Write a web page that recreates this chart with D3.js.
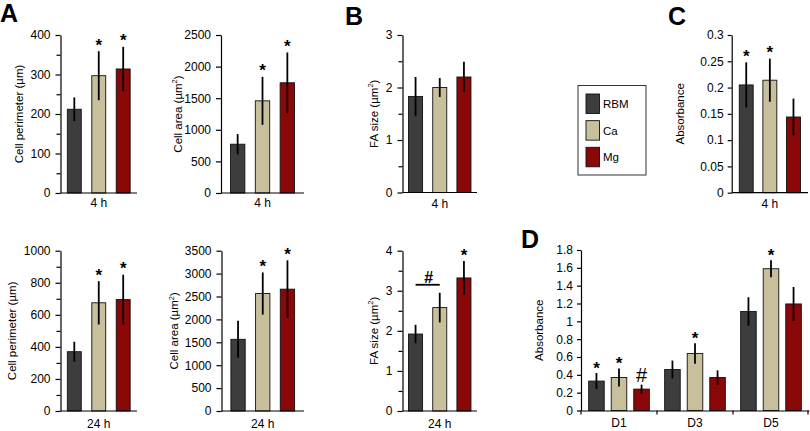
<!DOCTYPE html>
<html><head><meta charset="utf-8">
<script src="https://cdn.jsdelivr.net/npm/d3@7"></script>
<style>body{margin:0;background:#fff} svg text{font-family:"Liberation Sans",Arial,sans-serif;fill:#000}</style>
</head><body><svg id="c" width="810" height="431"></svg>
<script>
// ---------- data ----------
const groups = ["RBM", "Ca", "Mg"];
const colors = ["#3d3d3d", "#c8c09c", "#8a0808"];

const perim4h = [212, 297, 314], perim4hSD = [30, 62, 56], perim4hSig = ["", "*", "*"];
const area4h = [772, 1458, 1744], area4hSD = [160, 380, 480], area4hSig = ["", "*", "*"];
const perim24h = [370, 675, 695], perim24hSD = [62, 135, 155], perim24hSig = ["", "*", "*"];
const area24h = [1565, 2565, 2660], area24hSD = [405, 460, 630], area24hSig = ["", "*", "*"];
const fa4h = [1.83, 2.0, 2.2], fa4hSD = [0.37, 0.18, 0.29], fa4hSig = ["", "", ""];
const fa24h = [1.92, 2.58, 3.32], fa24hSD = [0.23, 0.37, 0.42], fa24hSig = ["", "", "*"];
const abs4h = [0.205, 0.214, 0.144], abs4hSD = [0.043, 0.041, 0.035], abs4hSig = ["*", "*", ""];

const days = ["D1", "D3", "D5"];
const absRBM = [0.33, 0.46, 1.11], absRBMSD = [0.09, 0.10, 0.16], absRBMSig = ["*", "", ""];
const absCa = [0.37, 0.64, 1.59], absCaSD = [0.10, 0.115, 0.095], absCaSig = ["*", "*", "*"];
const absMg = [0.24, 0.37, 1.195], absMgSD = [0.05, 0.08, 0.19], absMgSig = ["#", "", ""];

const ticksPerim4h = [0, 100, 200, 300, 400], minorPerim4h = [50, 150, 250, 350];
const ticksArea4h = [0, 500, 1000, 1500, 2000, 2500];
const ticksPerim24h = [0, 200, 400, 600, 800, 1000], minorPerim24h = [100, 300, 500, 700, 900];
const ticksArea24h = [0, 500, 1000, 1500, 2000, 2500, 3000, 3500];
const ticksFA4h = [0, 1, 2, 3], minorFA4h = [0.5, 1.5, 2.5];
const ticksFA24h = [0, 1, 2, 3, 4], minorFA24h = [0.5, 1.5, 2.5, 3.5];
const ticksAbs4h = [0, 0.05, 0.1, 0.15, 0.2, 0.25, 0.3];
const ticksAbsD = [0, 0.2, 0.4, 0.6, 0.8, 1, 1.2, 1.4, 1.6, 1.8];

const bracket24h = {from: "RBM", to: "Ca", value: 3.15, label: "#"};

// ---------- drawing ----------
const svg = d3.select("#c");
const FONT_TICK = 12, FONT_TITLE = 11.5;

function yAxis(g, y, major, minor, size, pad) {
  const ax = g.append("g").attr("transform", `translate(${y.x0},0)`)
    .call(d3.axisLeft(y).tickValues(major).tickSize(size).tickSizeOuter(0).tickPadding(pad).tickFormat(d => String(d)));
  ax.selectAll("text").style("font-size", FONT_TICK + "px").style("font-family", '"Liberation Sans",Arial,sans-serif');
  ax.selectAll("line,path").attr("stroke", "#000").attr("stroke-width", 1.2);
  if (minor && minor.length) {
    const mx = g.append("g").attr("transform", `translate(${y.x0},0)`)
      .call(d3.axisLeft(y).tickValues(minor).tickSize(size - 1).tickSizeOuter(0).tickFormat(""));
    mx.select(".domain").remove();
    mx.selectAll("line").attr("stroke", "#000").attr("stroke-width", 1.2);
  }
}

function title(g, text, cx, cy, sup) {
  const t = g.append("text").attr("transform", `translate(${cx},${cy}) rotate(-90)`)
    .attr("text-anchor", "middle").attr("dy", "0.35em").style("font-size", FONT_TITLE + "px");
  if (sup) {
    t.append("tspan").text(text);
    t.append("tspan").text("2").attr("dy", -4.5).style("font-size", "7.5px");
    t.append("tspan").text(")").attr("dy", 4.5);
  } else t.text(text);
}

function bars(g, xs, y, vals, sds, sigs, off) {
  const bw = xs.bandwidth();
  groups.forEach((k, i) => {
    const x = xs(k), v = vals[i], s = sds[i];
    g.append("rect").attr("x", x).attr("y", y(v)).attr("width", bw).attr("height", y(0) - y(v))
      .attr("fill", colors[i]).attr("stroke", "#111").attr("stroke-width", 0.9);
    g.append("line").attr("x1", x + bw / 2).attr("x2", x + bw / 2).attr("y1", y(v - s)).attr("y2", y(v + s))
      .attr("stroke", "#000").attr("stroke-width", 1.8);
    const sig = sigs[i];
    if (sig) {
      const isHash = sig === "#";
      g.append("text").attr("x", x + bw / 2).attr("y", y(v + s) + (isHash ? -2.5 : off))
        .attr("text-anchor", "middle").style("font-size", isHash ? "20px" : "17px")
        .style("font-weight", isHash ? "normal" : "bold").text(sig);
    }
  });
}

function panel(p) {
  const g = svg.append("g");
  const y = d3.scaleLinear().domain(p.domain).range([p.yBot, p.yTop]);
  y.x0 = p.x0;
  const xs = d3.scaleBand().domain(groups).range([p.x0, p.x1]).paddingInner(p.pi).paddingOuter(p.po);
  bars(g, xs, y, p.vals, p.sds, p.sigs, -0.5);
  g.append("line").attr("x1", p.x0).attr("x2", p.x1).attr("y1", p.yBot).attr("y2", p.yBot)
    .attr("stroke", "#000").attr("stroke-width", 1.2);
  yAxis(g, y, p.major, p.minor, p.tickSize || 5, p.tickPad || 5);
  title(g, p.title, p.titleX, (p.yTop + p.yBot) / 2, p.sup);
  g.append("text").attr("x", xs("Ca") + xs.bandwidth() / 2).attr("y", p.catY).attr("text-anchor", "middle")
    .style("font-size", "12px").text(p.cat);
  return {g, xs, y};
}

const TOP = [35, 193], BOT = [250.7, 411];

panel({x0: 60.5, x1: 137, yTop: TOP[0], yBot: TOP[1], domain: [0, 400], major: ticksPerim4h, minor: minorPerim4h,
  pi: 0.43, po: 0.28, vals: perim4h, sds: perim4hSD, sigs: perim4hSig, title: "Cell perimeter (\u00b5m)", titleX: 19,
  cat: "4 h", catY: 207});
panel({x0: 221, x1: 304, yTop: TOP[0], yBot: TOP[1], domain: [0, 2500], major: ticksArea4h, minor: [],
  pi: 0.42, po: 0.38, vals: area4h, sds: area4hSD, sigs: area4hSig, title: "Cell area (\u00b5m", sup: true, titleX: 177.5,
  cat: "4 h", catY: 207});
panel({x0: 60.5, x1: 137, yTop: BOT[0], yBot: BOT[1], domain: [0, 1000], major: ticksPerim24h, minor: minorPerim24h,
  pi: 0.43, po: 0.28, vals: perim24h, sds: perim24hSD, sigs: perim24hSig, title: "Cell perimeter (\u00b5m)", titleX: 12,
  cat: "24 h", catY: 428});
panel({x0: 221.5, x1: 304, yTop: BOT[0], yBot: BOT[1], domain: [0, 3500], major: ticksArea24h, minor: [],
  pi: 0.42, po: 0.38, vals: area24h, sds: area24hSD, sigs: area24hSig, title: "Cell area (\u00b5m", sup: true, titleX: 174,
  cat: "24 h", catY: 428});
panel({x0: 402.5, x1: 477, yTop: TOP[0], yBot: 192.5, domain: [0, 3], major: ticksFA4h, minor: minorFA4h,
  pi: 0.42, po: 0.25, vals: fa4h, sds: fa4hSD, sigs: fa4hSig, title: "FA size (\u00b5m", sup: true, titleX: 373.5,
  cat: "4 h", catY: 208});
const pb = panel({x0: 402.5, x1: 477, yTop: BOT[0], yBot: BOT[1], domain: [0, 4], major: ticksFA24h, minor: minorFA24h,
  pi: 0.42, po: 0.25, vals: fa24h, sds: fa24hSD, sigs: fa24hSig, title: "FA size (\u00b5m", sup: true, titleX: 373.5,
  cat: "24 h", catY: 428});
{
  const bw = pb.xs.bandwidth();
  const xa = pb.xs(bracket24h.from) + bw / 2, xb = pb.xs(bracket24h.to) + bw / 2, yb = pb.y(bracket24h.value);
  pb.g.append("line").attr("x1", xa).attr("x2", xb).attr("y1", yb).attr("y2", yb).attr("stroke", "#000").attr("stroke-width", 1.8);
  pb.g.append("text").attr("x", (xa + xb) / 2 + 1).attr("y", yb - 2).attr("text-anchor", "middle")
    .style("font-size", "16px").style("font-weight", "bold").text(bracket24h.label);
}
panel({x0: 731.7, x1: 808, yTop: 35, yBot: 192.7, domain: [0, 0.3], major: ticksAbs4h, minor: [],
  pi: 0.41, po: 0.32, vals: abs4h, sds: abs4hSD, sigs: abs4hSig, title: "Absorbance", titleX: 680,
  cat: "4 h", catY: 208, tickSize: 4, tickPad: 4});

// Panel D (grouped)
{
  const g = svg.append("g");
  const x0 = 581, x1 = 809, yTop = 250, yBot = 410.5;
  const y = d3.scaleLinear().domain([0, 1.8]).range([yBot, yTop]); y.x0 = x0;
  const xg = d3.scaleBand().domain(days).range([x0, x1]).padding(0);
  const xi = d3.scaleBand().domain(groups).range([0, xg.bandwidth()]).paddingInner(0.31).paddingOuter(0.34);
  const series = [[absRBM, absRBMSD, absRBMSig], [absCa, absCaSD, absCaSig], [absMg, absMgSD, absMgSig]];
  const bw = xi.bandwidth();
  days.forEach((d, j) => {
    series.forEach(([vals, sds, sigs], i) => {
      const x = xg(d) + xi(groups[i]), v = vals[j], s = sds[j];
      g.append("rect").attr("x", x).attr("y", y(v)).attr("width", bw).attr("height", y(0) - y(v))
        .attr("fill", colors[i]).attr("stroke", "#111").attr("stroke-width", 0.9);
      g.append("line").attr("x1", x + bw / 2).attr("x2", x + bw / 2).attr("y1", y(v - s)).attr("y2", y(v + s))
        .attr("stroke", "#000").attr("stroke-width", 1.8);
      const sig = sigs[j];
      if (sig) {
        const isHash = sig === "#";
        g.append("text").attr("x", x + bw / 2).attr("y", y(v + s) + (isHash ? -2.5 : 0.5))
          .attr("text-anchor", "middle").style("font-size", isHash ? "20px" : "17px")
          .style("font-weight", isHash ? "normal" : "bold").text(sig);
      }
    });
    g.append("text").attr("x", xg(d) + xg.bandwidth() / 2).attr("y", 426.5).attr("text-anchor", "middle")
      .style("font-size", "12px").text(d);
  });
  const xa = g.append("g").attr("transform", `translate(0,${yBot})`)
    .call(d3.axisBottom(xg).tickValues([]).tickSizeOuter(0));
  xa.selectAll("path").attr("stroke", "#000").attr("stroke-width", 1.2);
  const bounds = days.map(d => xg(d)).concat([x1 - 1]);
  bounds.forEach(b => g.append("line").attr("x1", b).attr("x2", b).attr("y1", yBot).attr("y2", yBot + 4)
    .attr("stroke", "#000").attr("stroke-width", 1.2));
  yAxis(g, y, ticksAbsD, [], 4, 4);
  title(g, "Absorbance", 538.5, (yTop + yBot) / 2);
}

// Legend
{
  const g = svg.append("g");
  g.append("rect").attr("x", 578).attr("y", 85.5).attr("width", 68).attr("height", 89.5)
    .attr("fill", "#fff").attr("stroke", "#333").attr("stroke-width", 1);
  const ly = d3.scalePoint().domain(groups).range([103.7, 157]);
  groups.forEach((k, i) => {
    g.append("rect").attr("x", 586).attr("y", ly(k) - 9.7).attr("width", 13.5).attr("height", 19.5)
      .attr("fill", colors[i]).attr("stroke", "#111").attr("stroke-width", 0.9);
    g.append("text").attr("x", 603).attr("y", ly(k) + 4.2).style("font-size", "11.5px").text(k);
  });
}

// Panel letters
[["A", 0, 21.5], ["B", 345, 25], ["C", 668, 24.5], ["D", 521, 248]].forEach(([t, x, yy]) =>
  svg.append("text").attr("x", x).attr("y", yy).style("font-size", "25px").style("font-weight", "bold").text(t));
</script></body></html>
